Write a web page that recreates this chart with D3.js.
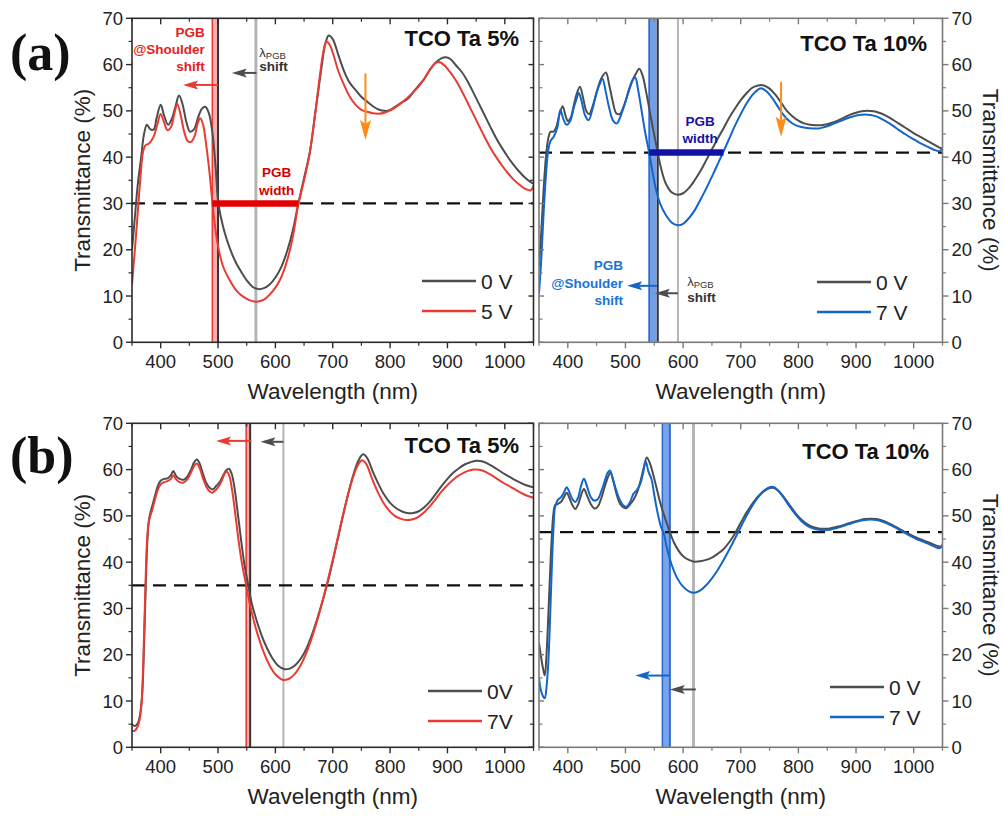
<!DOCTYPE html>
<html>
<head>
<meta charset="utf-8">
<script src="https://cdn.jsdelivr.net/npm/d3@7"></script>
<style>
    body { margin: 0; background: #fff; }
    svg text { font-family: "Liberation Sans", Arial, sans-serif; }
    svg text.panel-letter { font-family: "Liberation Serif", "Times New Roman", serif; }
</style>
</head>
<body>
<div id="chart"></div>
<script>
    // ---- data: [wavelength nm, transmittance %] ----
    const a5_0V = [[350,20],[355,27],[360,34],[366,40],[371,45],[376,47],[382,46],[388,46],[393,48.5],[400,51.3],[406,49],[413,47],[420,48.5],[426,51],[432,53.3],[438,51.5],[445,47.5],[451,45.5],[458,46],[465,48.5],[472,50.5],[478,50.9],[484,49.5],[490,45.5],[496,37.5],[500,30.5],[505,27],[512,23.5],[520,20.5],[530,17.5],[540,15.3],[550,13.4],[560,12],[570,11.5],[580,11.7],[590,12.5],[600,14],[610,16.2],[620,19.5],[630,24],[640,30],[650,35.5],[660,41],[670,50],[680,59],[687,64.5],[693,66.3],[700,65.5],[710,62],[720,58.5],[730,56],[740,54.5],[750,53],[760,52],[770,51],[780,50.3],[790,50],[800,50.2],[810,51],[820,51.8],[830,52.5],[840,54],[850,55.5],[860,57],[870,59],[880,60.5],[890,61.4],[897,61.6],[905,61.2],[915,59.8],[925,58.4],[935,56.4],[945,54],[955,51.5],[965,49],[975,46.5],[985,44.1],[995,42],[1005,40.1],[1015,38.4],[1025,36.9],[1035,35.6],[1045,34.6],[1050,34.3]];
    const a5_5V = [[350,12.5],[355,20],[360,28],[365,36],[369,41],[373,42.5],[380,43],[388,44.5],[394,47],[400,49.3],[406,47.5],[412,45.8],[418,46.5],[424,49.5],[429,51.5],[435,49],[441,45.5],[447,43.5],[453,43.3],[459,44.5],[465,47.5],[469,48.4],[474,47],[479,43],[484,38],[488,33],[492,28],[497,23],[503,19],[510,16],[520,13.5],[530,11.5],[540,10.2],[550,9.4],[560,8.9],[570,8.8],[580,9.2],[590,10.3],[600,11.8],[610,14],[620,17.5],[630,22.5],[640,29.8],[650,35],[660,41],[670,50],[678,58],[684,63],[689,65],[695,64.2],[702,61.8],[710,58.5],[720,55.5],[730,53],[740,51.3],[750,50.2],[760,49.8],[770,49.5],[780,49.4],[790,49.6],[800,50.1],[810,50.8],[820,51.8],[830,52.8],[840,54],[850,55.3],[860,57],[870,59],[880,60.4],[887,60.5],[895,59.8],[905,58.3],[915,56.5],[925,54.3],[935,51.8],[945,49.3],[955,46.8],[965,44.3],[975,42],[985,40],[995,38.2],[1005,36.6],[1015,35.2],[1025,34.1],[1035,33.2],[1045,32.8],[1050,33.8]];

    const a10_0V = [[350,16.5],[354,24],[358,33],[362,40],[366,44],[370,45.5],[375,45.5],[380,46.5],[385,49],[391,51],[396,49],[400,47.8],[405,48.5],[410,51],[415,53.5],[421,55.2],[427,52.5],[432,50],[437,49.3],[443,51],[450,54],[458,57],[466,58.3],[472,55.5],[478,52],[484,49.5],[490,49.3],[497,51],[505,54],[512,56.5],[518,58],[524,59.1],[530,57.5],[536,54],[542,50],[548,46],[556,41],[562,37.5],[570,34.3],[580,32.4],[590,31.9],[600,32.2],[610,33.3],[620,35],[630,37],[640,39.3],[650,41.7],[660,44],[670,46.2],[680,48.5],[690,50.5],[700,52.3],[710,53.8],[720,55],[730,55.5],[740,55.5],[750,54.8],[760,53.5],[770,51.8],[780,50],[790,48.8],[800,47.9],[810,47.3],[820,47],[830,46.9],[840,46.9],[850,47.1],[860,47.5],[870,48],[880,48.6],[890,49.2],[900,49.6],[910,49.9],[920,50],[930,49.9],[940,49.6],[950,49.1],[960,48.4],[970,47.6],[980,46.8],[990,46],[1000,45.2],[1010,44.5],[1020,43.8],[1030,43.1],[1040,42.4],[1050,41.8]];
    const a10_7V = [[350,10.5],[354,18],[358,28],[362,36],[366,41.5],[370,43.5],[376,44.5],[382,46.5],[387,50.2],[393,48],[398,47],[404,47.8],[410,50.5],[415,52.5],[419,53.9],[424,52],[430,49],[436,48],[443,50.5],[450,54],[456,56],[460,57],[466,54],[472,50.5],[479,47.8],[485,47.3],[492,49],[500,52],[507,55],[513,56.8],[517,57.2],[522,54.5],[528,50],[534,45.5],[541,41],[546,37.5],[552,33.5],[560,30],[570,27.5],[580,25.9],[590,25.3],[600,25.6],[610,26.8],[620,28.5],[630,30.8],[640,33.2],[650,35.8],[660,38.5],[670,41.2],[680,44],[690,46.8],[700,49.3],[710,51.6],[720,53.4],[730,54.6],[735,54.9],[745,54.2],[755,52.7],[765,50.8],[775,49],[785,47.7],[795,46.9],[805,46.5],[815,46.3],[825,46.2],[835,46.2],[845,46.5],[855,46.9],[865,47.4],[875,47.9],[885,48.4],[895,48.8],[905,49.1],[915,49.2],[925,49.1],[935,48.8],[945,48.2],[955,47.5],[965,46.7],[975,45.8],[985,45],[995,44.2],[1005,43.5],[1015,42.8],[1025,42.2],[1035,41.6],[1045,41.3],[1050,42]];

    const b5_0V = [[350,5],[355,4.6],[360,5.2],[364,7],[368,12],[371,22],[374,35],[377,45],[380,49.5],[385,52],[390,54.3],[395,56.5],[400,57.6],[406,58],[412,58.1],[418,58.8],[422,59.7],[427,58.6],[433,58],[440,57.8],[447,58.6],[453,60],[458,61.5],[463,62.2],[468,61.3],[474,59],[480,57],[486,56],[491,55.7],[497,56.5],[503,57.3],[508,58.5],[514,59.8],[519,60.2],[524,59],[529,55.8],[534,51],[540,45],[546,39.5],[552,35.5],[558,31.5],[565,28.3],[575,24.5],[585,21.5],[595,19.2],[605,17.6],[615,16.9],[625,17],[635,17.8],[645,19.3],[655,21.6],[665,24.8],[675,28.6],[685,32.8],[695,37.5],[705,43],[715,48.5],[725,53.8],[735,58.5],[745,62],[753,63.3],[760,62.5],[770,59.5],[780,56.8],[790,54.5],[800,52.8],[810,51.7],[820,51],[830,50.6],[840,50.6],[850,51],[860,51.9],[870,53.2],[880,54.8],[890,56.5],[900,58],[910,59.3],[920,60.3],[930,61.1],[940,61.6],[950,61.9],[960,61.8],[970,61.3],[980,60.6],[990,59.8],[1000,59],[1010,58.3],[1020,57.6],[1030,57],[1040,56.5],[1050,56.2]];
    const b5_7V = [[350,3.5],[355,3.6],[360,4.5],[364,6.5],[367,10],[370,20],[373,33],[376,44],[379,48.5],[385,51.2],[390,53.5],[395,55.6],[400,56.8],[406,57.3],[412,57.5],[418,58],[422,58.8],[427,57.9],[433,57.3],[440,57.2],[447,58],[453,59.4],[458,60.7],[463,61.3],[468,60.3],[474,58],[480,56.2],[486,55.2],[490,55],[496,55.6],[502,56.5],[507,57.8],[512,59.2],[516,59.5],[520,58.5],[525,55.2],[530,50.5],[536,44.5],[542,39.5],[549,35],[555,31.2],[562,27.5],[572,23.2],[582,19.8],[592,17.2],[602,15.5],[612,14.6],[622,14.7],[632,15.6],[642,17.3],[652,19.8],[662,23.1],[672,27],[682,31.5],[692,36.4],[702,41.5],[712,47],[722,52.3],[732,57],[742,60.5],[751,62],[758,61.3],[768,58.2],[778,55.3],[788,52.9],[798,51.2],[808,50],[818,49.4],[828,49.1],[838,49.2],[848,49.7],[858,50.6],[868,51.9],[878,53.4],[888,55],[898,56.4],[908,57.6],[918,58.6],[928,59.3],[938,59.8],[948,60],[958,59.9],[968,59.4],[978,58.7],[988,57.9],[998,57.1],[1008,56.4],[1018,55.7],[1028,55],[1038,54.4],[1050,53.9]];

    const b10_0V = [[350,22.5],[353,20],[357,17],[360,15.5],[363,20],[366,28],[369,37],[372,45],[375,50.5],[378,52.3],[383,52.6],[388,53],[393,54],[398,55],[403,53.8],[408,52.3],[413,51.5],[418,52.5],[423,54.5],[428,55.8],[433,54.5],[440,52.5],[446,51.6],[452,52],[458,53.8],[464,56.3],[470,58.5],[474,59.4],[479,57.5],[485,54.5],[491,52.5],[497,51.8],[502,51.7],[508,52.5],[514,53.5],[520,55],[526,57.5],[531,60],[537,62.6],[542,61.5],[548,59],[554,56],[560,53],[566,50.5],[572,48.3],[577,46.5],[584,44.3],[592,42.5],[600,41.3],[610,40.5],[620,40.1],[630,40.2],[640,40.5],[650,41],[660,41.8],[670,42.8],[680,44.3],[690,46.2],[700,48.5],[710,50.7],[720,52.6],[730,54.2],[740,55.3],[750,56],[758,56],[766,55.3],[775,54],[785,52.3],[795,50.6],[805,49.2],[815,48.2],[825,47.6],[835,47.3],[845,47.2],[855,47.3],[865,47.6],[875,47.9],[885,48.3],[895,48.7],[905,49],[915,49.3],[925,49.4],[935,49.3],[945,49],[955,48.5],[965,47.9],[975,47.2],[985,46.5],[995,45.9],[1005,45.3],[1015,44.8],[1025,44.3],[1035,43.8],[1045,43.4],[1050,43.3]];
    const b10_7V = [[350,15],[353,12.5],[357,11],[360,10.6],[363,13],[366,18],[369,27],[372,38],[375,47],[378,52],[383,53.5],[388,54],[393,55],[398,56.2],[403,55],[408,53.6],[413,53],[418,54],[423,56.5],[428,58],[433,56.5],[440,54],[446,53.3],[452,53.6],[458,55.3],[464,57.5],[469,59.3],[473,59.8],[478,58],[484,55.5],[490,53.5],[496,52.3],[502,52],[508,53],[514,54.8],[520,55.6],[526,57],[531,59.5],[535,61.8],[540,59.5],[545,58],[550,54.5],[556,50.5],[562,47.5],[566,46.4],[572,43],[580,39.5],[590,36.5],[600,34.7],[610,33.7],[620,33.4],[630,33.9],[640,35],[650,36.5],[660,38.3],[670,40.4],[680,42.7],[690,45.1],[700,47.6],[710,50],[720,52.2],[730,54],[740,55.4],[750,56.2],[758,56.2],[766,55.3],[775,53.8],[785,52],[795,50.3],[805,48.9],[815,47.9],[825,47.3],[835,47],[845,46.9],[855,47],[865,47.3],[875,47.7],[885,48.1],[895,48.5],[905,48.9],[915,49.1],[925,49.2],[935,49.1],[945,48.8],[955,48.3],[965,47.7],[975,47],[985,46.3],[995,45.6],[1005,45],[1015,44.5],[1025,44],[1035,43.4],[1045,43],[1050,43.8]];

    const xTicks = [400, 500, 600, 700, 800, 900, 1000];
    const yTicks = [0, 10, 20, 30, 40, 50, 60, 70];
    const titles = ["TCO Ta 5%", "TCO Ta 10%", "TCO Ta 5%", "TCO Ta 10%"];
    const legendLabels = [["0 V", "5 V"], ["0 V", "7 V"], ["0V", "7V"], ["0 V", "7 V"]];
    const dashLevels = [30, 41, 35, 46.5];

    const width = 1004, height = 816;
    const GRAY = "#4d4d4d", RED = "#ea3a31", BLUE = "#1366c9", NAVY = "#1212a6",
          ORANGE = "#ff8a17", LIGHT = "#b5b5b5";

    const svg = d3.select("#chart").append("svg")
        .attr("width", width)
        .attr("height", height);

    const defs = svg.append("defs");

    function arrow(g, x1, y1, x2, y2, color, sw, hl, hw) {
        // shaft + filled head at (x2,y2)
        const ang = Math.atan2(y2 - y1, x2 - x1);
        const bx = x2 - hl * Math.cos(ang), by = y2 - hl * Math.sin(ang);
        g.append("line")
            .attr("x1", x1).attr("y1", y1).attr("x2", bx).attr("y2", by)
            .attr("stroke", color).attr("stroke-width", sw);
        const nx = -Math.sin(ang) * hw / 2, ny = Math.cos(ang) * hw / 2;
        const back = 0.25 * hl;
        g.append("path")
            .attr("d", `M${x2},${y2} L${bx - back * Math.cos(ang) + nx},${by - back * Math.sin(ang) + ny} L${bx},${by} L${bx - back * Math.cos(ang) - nx},${by - back * Math.sin(ang) - ny}Z`)
            .attr("fill", color);
    }

    function drawPanel(p) {
        const x = d3.scaleLinear().domain([350, 1050]).range([p.x0, p.x1]);
        const y = d3.scaleLinear().domain([0, 70]).range([p.y1, p.y0]);
        const g = svg.append("g");
        const clipId = "clip" + p.id;
        defs.append("clipPath").attr("id", clipId)
            .append("rect").attr("x", p.x0).attr("y", p.y0)
            .attr("width", p.x1 - p.x0).attr("height", p.y1 - p.y0);
        const plot = g.append("g").attr("clip-path", `url(#${clipId})`);

        // shaded PGB@shoulder band
        plot.append("rect")
            .attr("x", x(p.band[0])).attr("y", p.y0)
            .attr("width", x(p.band[1]) - x(p.band[0])).attr("height", p.y1 - p.y0)
            .attr("fill", p.bandFill).attr("opacity", p.bandOpacity);
        plot.append("line")
            .attr("x1", x(p.band[0])).attr("x2", x(p.band[0]))
            .attr("y1", p.y0).attr("y2", p.y1)
            .attr("stroke", p.bandEdge).attr("stroke-width", 1.5);
        plot.append("line")
            .attr("x1", x(p.bandRight)).attr("x2", x(p.bandRight))
            .attr("y1", p.y0).attr("y2", p.y1)
            .attr("stroke", p.bandRightColor).attr("stroke-width", 2);

        // lambda_PGB line
        plot.append("line")
            .attr("x1", x(p.lambda)).attr("x2", x(p.lambda))
            .attr("y1", p.y0).attr("y2", p.y1)
            .attr("stroke", LIGHT).attr("stroke-width", p.lambdaWidth);

        // dashed reference
        plot.append("line")
            .attr("x1", p.x0).attr("x2", p.x1)
            .attr("y1", y(p.dash)).attr("y2", y(p.dash))
            .attr("stroke", "#111").attr("stroke-width", 2.2)
            .attr("stroke-dasharray", "13,8");

        // curves
        const line = d3.line().x(d => x(d[0])).y(d => y(d[1])).curve(d3.curveCatmullRom.alpha(0.5));
        plot.append("path").datum(p.s0).attr("d", line)
            .attr("fill", "none").attr("stroke", GRAY).attr("stroke-width", 2);
        plot.append("path").datum(p.s1).attr("d", line)
            .attr("fill", "none").attr("stroke", p.color).attr("stroke-width", 2);

        // PGB width bar
        if (p.bar) {
            plot.append("line")
                .attr("x1", x(p.bar[0])).attr("x2", x(p.bar[1]))
                .attr("y1", y(p.dash)).attr("y2", y(p.dash))
                .attr("stroke", p.barColor).attr("stroke-width", 6.5);
        }

        // shift arrows
        p.arrows.forEach(a => arrow(g, x(a[0]), y(a[2]), x(a[1]), y(a[2]), a[3], 2, 12, 9));
        if (p.orange) arrow(g, x(p.orange[0]), y(p.orange[1]), x(p.orange[0]), y(p.orange[2]), ORANGE, 2, 16, 11);

        // annotation texts
        (p.texts || []).forEach(t => {
            const el = g.append("text")
                .attr("x", x(t.x)).attr("y", y(t.y))
                .attr("text-anchor", t.anchor)
                .attr("dominant-baseline", "central")
                .attr("font-size", 13.5).attr("font-weight", "bold")
                .attr("fill", t.color);
            if (t.lambda) {
                el.attr("font-weight", "normal").attr("font-size", 13);
                el.append("tspan").text("λ");
                el.append("tspan").attr("dy", 3).attr("font-size", 9.5).text("PGB");
            } else {
                el.text(t.text);
            }
        });

        // frame
        const frameColor = p.side === "left" ? "#2b2b2b" : "#7a7a7a";
        g.append("rect")
            .attr("x", p.x0).attr("y", p.y0)
            .attr("width", p.x1 - p.x0).attr("height", p.y1 - p.y0)
            .attr("fill", "none").attr("stroke", frameColor).attr("stroke-width", 1.6);

        // x ticks (major + minor) bottom outward, top inward
        const xMinor = d3.range(350, 1051, 50).filter(v => v % 100 !== 0);
        xTicks.forEach(v => {
            g.append("line").attr("x1", x(v)).attr("x2", x(v)).attr("y1", p.y1).attr("y2", p.y1 + 6)
                .attr("stroke", frameColor).attr("stroke-width", 1.4);
            g.append("line").attr("x1", x(v)).attr("x2", x(v)).attr("y1", p.y0).attr("y2", p.y0 + 6)
                .attr("stroke", frameColor).attr("stroke-width", 1.4);
            g.append("text").attr("x", x(v)).attr("y", p.y1 + 26)
                .attr("text-anchor", "middle").attr("font-size", 18.5).attr("fill", "#222").text(v);
        });
        xMinor.forEach(v => {
            g.append("line").attr("x1", x(v)).attr("x2", x(v)).attr("y1", p.y1).attr("y2", p.y1 + 3.5)
                .attr("stroke", frameColor).attr("stroke-width", 1.2);
            g.append("line").attr("x1", x(v)).attr("x2", x(v)).attr("y1", p.y0).attr("y2", p.y0 + 3.5)
                .attr("stroke", frameColor).attr("stroke-width", 1.2);
        });

        // y ticks: labelled side outward, mirrored side inward
        const yMinor = d3.range(5, 70, 10);
        const outX = p.side === "left" ? p.x0 : p.x1;
        const inX = p.side === "left" ? p.x1 : p.x0;
        const outDir = p.side === "left" ? -1 : 1;
        yTicks.forEach(v => {
            g.append("line").attr("x1", outX).attr("x2", outX + outDir * 6).attr("y1", y(v)).attr("y2", y(v))
                .attr("stroke", frameColor).attr("stroke-width", 1.4);
            g.append("line").attr("x1", inX).attr("x2", inX + outDir * 5).attr("y1", y(v)).attr("y2", y(v))
                .attr("stroke", frameColor).attr("stroke-width", 1.4);
            g.append("text").attr("x", outX + outDir * 9).attr("y", y(v))
                .attr("text-anchor", p.side === "left" ? "end" : "start")
                .attr("dominant-baseline", "central")
                .attr("font-size", 18.5).attr("fill", "#222").text(v);
        });
        yMinor.forEach(v => {
            g.append("line").attr("x1", outX).attr("x2", outX + outDir * 3.5).attr("y1", y(v)).attr("y2", y(v))
                .attr("stroke", frameColor).attr("stroke-width", 1.2);
            g.append("line").attr("x1", inX).attr("x2", inX + outDir * 3.5).attr("y1", y(v)).attr("y2", y(v))
                .attr("stroke", frameColor).attr("stroke-width", 1.2);
        });

        // axis titles
        g.append("text")
            .attr("x", (p.x0 + p.x1) / 2).attr("y", p.y1 + 57)
            .attr("text-anchor", "middle").attr("font-size", 22.5).attr("fill", "#222")
            .text("Wavelength (nm)");
        const ly = (p.y0 + p.y1) / 2;
        const lx = p.side === "left" ? p.x0 - 50 : p.x1 + 48;
        g.append("text")
            .attr("transform", `translate(${lx},${ly}) rotate(${p.side === "left" ? -90 : 90})`)
            .attr("text-anchor", "middle").attr("dominant-baseline", "central")
            .attr("font-size", 22.5).attr("fill", "#222")
            .text("Transmittance (%)");

        // title
        g.append("text")
            .attr("x", p.titleX).attr("y", p.y0 + p.titleDy)
            .attr("text-anchor", "end").attr("font-size", 22).attr("font-weight", "bold")
            .attr("fill", "#111").text(p.title);

        // legend
        [GRAY, p.color].forEach((c, i) => {
            const ly2 = p.legY + i * 30;
            g.append("line").attr("x1", p.legX).attr("x2", p.legX + 54)
                .attr("y1", ly2).attr("y2", ly2).attr("stroke", c).attr("stroke-width", 2.5);
            g.append("text").attr("x", p.legX + 59).attr("y", ly2)
                .attr("dominant-baseline", "central").attr("font-size", 21).attr("fill", "#222")
                .text(p.legend[i]);
        });
    }

    const L = { x0: 132, x1: 533.5 }, R = { x0: 539, x1: 942.5 };
    const T = { y0: 18.3, y1: 342.3 }, B = { y0: 423.3, y1: 747.3 };

    drawPanel({
        id: 1, side: "left", ...L, ...T, s0: a5_0V, s1: a5_5V, color: RED,
        band: [490, 500], bandFill: "#f48c8c", bandOpacity: 0.7, bandEdge: RED, bandRight: 500, bandRightColor: "#333",
        lambda: 566, lambdaWidth: 3, dash: dashLevels[0], bar: [490, 640], barColor: "#e30000",
        arrows: [[500, 439, 55.6, RED], [567, 524, 58.2, GRAY]],
        orange: [757, 58.1, 43.7],
        texts: [
            { x: 477, y: 67, text: "PGB", anchor: "end", color: "#e51e1e" },
            { x: 477, y: 63.3, text: "@Shoulder", anchor: "end", color: "#e51e1e" },
            { x: 477, y: 59.6, text: "shift", anchor: "end", color: "#e51e1e" },
            { x: 572, y: 62.7, lambda: true, anchor: "start", color: "#333" },
            { x: 572, y: 59.5, text: "shift", anchor: "start", color: "#333" },
            { x: 602, y: 36.6, text: "PGB", anchor: "middle", color: "#d40000" },
            { x: 602, y: 32.7, text: "width", anchor: "middle", color: "#d40000" }
        ],
        title: titles[0], titleX: 519, titleDy: 28, legend: legendLabels[0], legX: 422, legY: 281
    });

    drawPanel({
        id: 2, side: "right", ...R, ...T, s0: a10_0V, s1: a10_7V, color: BLUE,
        band: [541, 554], bandFill: "#4f86e0", bandOpacity: 0.8, bandEdge: "#1a5fd0", bandRight: 556, bandRightColor: "#333",
        lambda: 591, lambdaWidth: 2, dash: dashLevels[1], bar: [541, 670], barColor: NAVY,
        arrows: [[555, 503, 12.2, BLUE], [591, 551, 10.6, GRAY]],
        orange: [770, 56.3, 44.4],
        texts: [
            { x: 629.5, y: 47.6, text: "PGB", anchor: "middle", color: NAVY },
            { x: 629.5, y: 44.1, text: "width", anchor: "middle", color: NAVY },
            { x: 495.7, y: 16.5, text: "PGB", anchor: "end", color: "#1a73d6" },
            { x: 495.7, y: 12.8, text: "@Shoulder", anchor: "end", color: "#1a73d6" },
            { x: 495.7, y: 9.1, text: "shift", anchor: "end", color: "#1a73d6" },
            { x: 607, y: 13.2, lambda: true, anchor: "start", color: "#333" },
            { x: 607, y: 9.6, text: "shift", anchor: "start", color: "#333" }
        ],
        title: titles[1], titleX: 927, titleDy: 33, legend: legendLabels[1], legX: 817, legY: 282
    });

    drawPanel({
        id: 3, side: "left", ...L, ...B, s0: b5_0V, s1: b5_7V, color: RED,
        band: [549, 556], bandFill: "#f48c8c", bandOpacity: 0.7, bandEdge: RED, bandRight: 556, bandRightColor: "#333",
        lambda: 614, lambdaWidth: 2, dash: dashLevels[2], bar: null,
        arrows: [[558, 496.5, 66.2, RED], [614, 574, 66, GRAY]],
        orange: null, texts: [],
        title: titles[2], titleX: 519, titleDy: 30, legend: legendLabels[2], legX: 428, legY: 691
    });

    drawPanel({
        id: 4, side: "right", ...R, ...B, s0: b10_0V, s1: b10_7V, color: BLUE,
        band: [564, 577], bandFill: "#4f86e0", bandOpacity: 0.75, bandEdge: "#2a6ad4", bandRight: 577, bandRightColor: "#2a6ad4",
        lambda: 618, lambdaWidth: 3, dash: dashLevels[3], bar: null,
        arrows: [[577, 517, 15.5, BLUE], [622, 577, 12.5, GRAY]],
        orange: null, texts: [],
        title: titles[3], titleX: 929, titleDy: 36, legend: legendLabels[3], legX: 830, legY: 687
    });

    // panel letters (serif, set via class so the sans rule does not win)
    [["(a)", 70], ["(b)", 473]].forEach(([t, yy]) => {
        svg.append("text").attr("class", "panel-letter")
            .attr("x", 10).attr("y", yy)
            .attr("font-weight", "bold").attr("font-size", 52).attr("fill", "#111").text(t);
    });
</script>
</body>
</html>
